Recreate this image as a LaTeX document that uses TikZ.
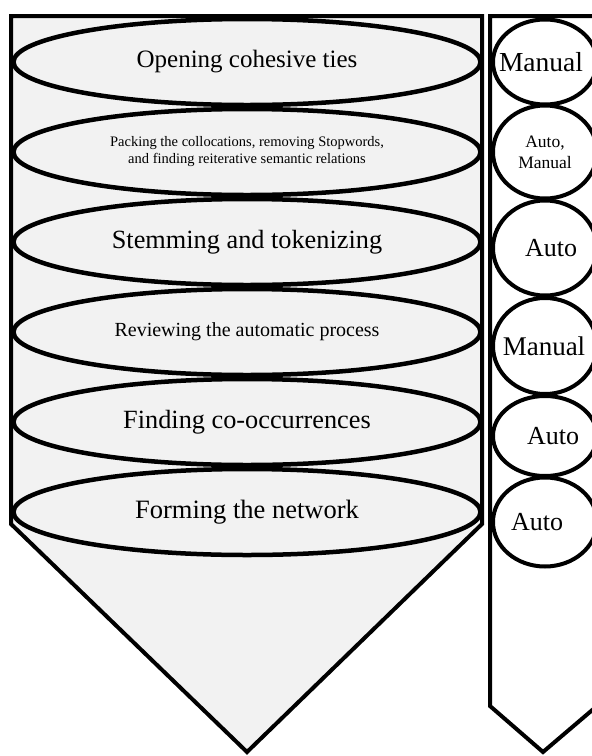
\documentclass[tikz,border=0pt]{standalone}
\usepackage{fontspec}
\setmainfont{Liberation Serif}
\usetikzlibrary{shapes.geometric}
\definecolor{panel}{gray}{0.95}
\begin{document}
\begin{tikzpicture}[x=1pt,y=-1pt,
  stage/.style={ellipse,draw,line width=4.5pt,fill=panel,minimum width=467pt,minimum height=86pt,inner sep=0pt,align=center},
  mode/.style={ellipse,draw,line width=4pt,fill=white,minimum width=104pt,inner sep=0pt}]
\useasboundingbox (0,0) rectangle (592,756);
\draw[line width=4pt,fill=panel] (11,16) -- (482,16) -- (482,524) -- (247,752) -- (11,524) -- cycle;
\draw[line width=4pt,fill=white] (490,16) -- (597,16) -- (597,706) -- (543,752) -- (490,706) -- cycle;
\foreach \txt/\fs/\bs [count=\i from 0] in {{Opening cohesive ties}/25/30,
    {Packing the collocations, removing Stopwords,\\ and finding reiterative semantic relations}/14.5/17,
    {Stemming and tokenizing}/26.3/31, {Reviewing the automatic process}/20/24,
    {Finding co-occurrences}/26.3/31, {Forming the network}/26.5/31} {
    \node[stage,font=\fontsize{\fs}{\bs}\selectfont] (s\i) at (247,{62+90*\i}) {\txt};
}
\foreach \txt/\y/\h/\dx/\fs/\bs [count=\i] in {Manual/62/85/-4/27.5/31, {Auto,\\Manual}/152/93/0/17.5/21,
    Auto/248/95/6/26/31, Manual/346/96/-1/27/31, Auto/436/80/8/26/31, Auto/522/89/-8/26/31} {
    \node[mode,minimum height=\h pt,label={[font=\fontsize{\fs}{\bs}\selectfont,align=center,xshift=\dx pt]center:\txt}] (m\i) at (545,\y) {};
}
\end{tikzpicture}
\end{document}
